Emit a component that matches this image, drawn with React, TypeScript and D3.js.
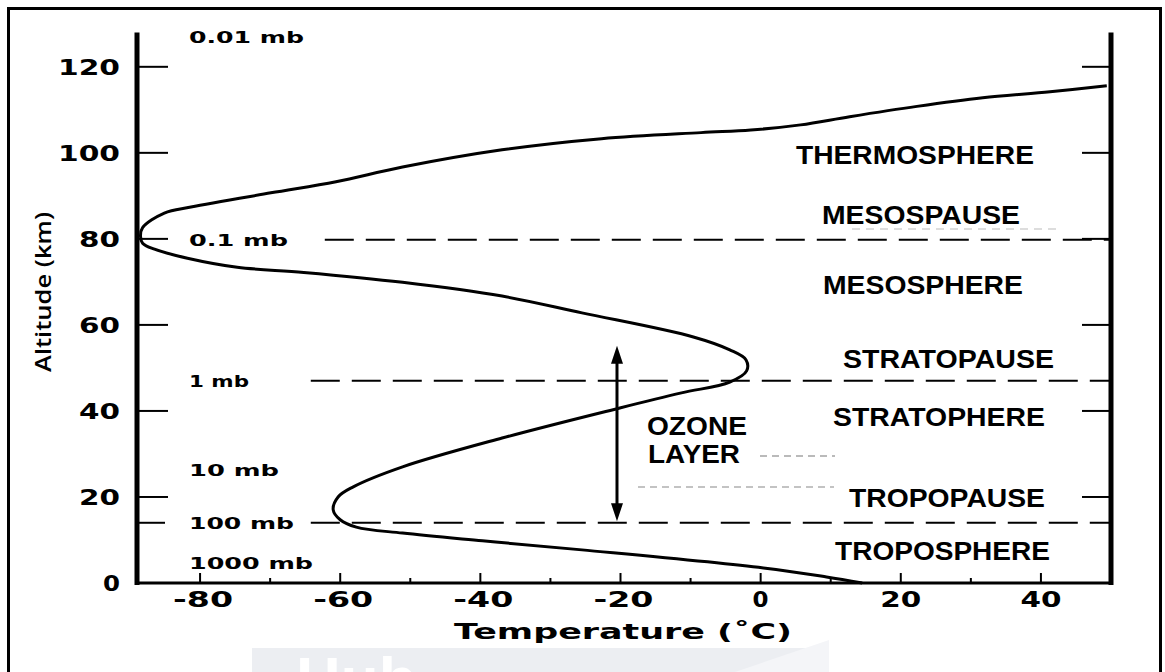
import React from 'react';
import * as d3 from 'd3';

const W = 1165;
const H = 672;

// Temperature profile: temperature (°C) and altitude (km)
const profileTemp = [
  14.5, 9.4, 0.4, -25.5, -39.7, -51.1, -57.7, -60.0, -61.0, -60.3, -58.2, -51.1,
  -36.9, -20.1, -11.3, -4.4, -2.0, -2.1, -4.4, -9.6, -25.5, -36.9, -51.1, -65.2,
  -74.7, -81.8, -86.5, -88.2, -88.5, -88.2, -85.1, -81.3, -69.9, -60.6, -51.1,
  -36.9, -22.7, -8.5, -1.4, 5.7, 12.7, 22.3, 31.7, 41.3, 49.4,
];
const profileAlt = [
  0, 1.4, 3.5, 7.7, 9.8, 11.6, 13.0, 14.7, 17.0, 20.0, 22.3, 27.0,
  33.7, 40.7, 44.2, 46.7, 49.3, 51.9, 54.2, 57.2, 62.8, 66.7, 69.9, 72.2,
  73.4, 75.5, 77.6, 79.0, 80.6, 82.6, 86.0, 87.4, 90.7, 93.3, 96.7,
  100.7, 103.3, 104.7, 105.3, 106.5, 108.4, 110.8, 112.8, 114.2, 115.6,
];

const altTicks = [0, 20, 40, 60, 80, 100, 120];
const tempTicks = [-80, -60, -40, -20, 0, 20, 40];
const tempMinorTicks = [-70, -50, -30, -10, 10, 30];

// pressure levels: label and altitude (km)
const pressureLabels = ['0.01 mb', '0.1 mb', '1 mb', '10 mb', '100 mb', '1000 mb'];
const pressureAlts = [127, 79.8, 47.0, 26.3, 14.0, 4.7];
// dashed boundary lines (km) and the temperature where each dash run starts
const boundaryAlts = [79.8, 47.0, 14.0];
const boundaryStartTemps = [-62.2, -64.2, -64.2];

const layerNames = [
  'THERMOSPHERE', 'MESOSPAUSE', 'MESOSPHERE', 'STRATOPAUSE',
  'STRATOPHERE', 'TROPOPAUSE', 'TROPOSPHERE',
];
const ozoneLines = ['OZONE', 'LAYER'];
const ozoneRange = [15.3, 54.2]; // km
const ozoneTemp = -20.5;

// layout (pixels) for text annotations
const layerLayout = [
  { x: 796, y: 164, w: 238 },
  { x: 822, y: 224, w: 198 },
  { x: 823, y: 294, w: 200 },
  { x: 843, y: 368, w: 211 },
  { x: 833, y: 426, w: 212 },
  { x: 849, y: 507, w: 196 },
  { x: 835, y: 560, w: 215 },
];
const ozoneLayout = [
  { x: 647, y: 435, w: 100 },
  { x: 648, y: 463, w: 92 },
];
const pressureWidths = [115, 99, 60, 90, 105, 124];

const margin = { left: 137, right: 1111, top: 32.4, bottom: 583 };

const App = () => {
  const x = d3.scaleLinear().domain([-89, 50]).range([margin.left, margin.right]);
  const y = d3.scaleLinear().domain([0, 128]).range([margin.bottom, margin.top]);

  const line = d3
    .line<number>()
    .x((_, i) => x(profileTemp[i]))
    .y((_, i) => y(profileAlt[i]))
    .curve(d3.curveCatmullRom.alpha(0.5));

  const numFont = "'DejaVu Sans', sans-serif";
  const labFont = "'Liberation Sans', Arial, sans-serif";

  const tickLabelWidth = (s: string) => (s.length === 1 ? 17 : s.length === 2 ? 41 : 62);

  const ax = x(ozoneTemp);
  const aTop = y(ozoneRange[1]);
  const aBot = y(ozoneRange[0]);

  return (
    <svg
      width={W}
      height={H}
      style={{ position: 'absolute', left: 0, top: 0, background: '#fff' }}
    >
      <rect x={0} y={0} width={W} height={H} fill="#fff" />

      {/* watermark */}
      <rect x={252} y={648} width={577} height={30} fill="#eceef2" />
      <polygon points="735,672 829,640 829,672" fill="#f4f5f8" />
      <text x={296} y={700} fontFamily={labFont} fontWeight="bold" fontSize={62} fill="#fff">
        Hub
      </text>

      {/* outer frame */}
      <rect x={8.5} y={8.5} width={1152} height={700} fill="none" stroke="#000" strokeWidth={3} />

      {/* faint guide dashes near ozone label */}
      <line x1={760} x2={835} y1={456} y2={456} stroke="#777" strokeWidth={1.2} strokeDasharray="7 5" />
      <line x1={638} x2={834} y1={487} y2={487} stroke="#888" strokeWidth={1.2} strokeDasharray="7 5" />
      <line x1={852} x2={1060} y1={229} y2={229} stroke="#bbb" strokeWidth={1.2} strokeDasharray="8 6" />

      {/* dashed boundaries */}
      {boundaryAlts.map((a, i) => (
        <line
          key={'b' + i}
          x1={x(boundaryStartTemps[i])}
          x2={margin.right}
          y1={y(a)}
          y2={y(a)}
          stroke="#000"
          strokeWidth={2}
          strokeDasharray="29 12"
        />
      ))}

      {/* profile */}
      <path d={line(profileTemp) || ''} fill="none" stroke="#000" strokeWidth={3} />

      {/* axes */}
      <line x1={margin.left} x2={margin.left} y1={margin.top} y2={margin.bottom + 2} stroke="#000" strokeWidth={5} />
      <line x1={margin.right} x2={margin.right} y1={margin.top} y2={margin.bottom + 2} stroke="#000" strokeWidth={5} />
      <line x1={margin.left} x2={margin.right} y1={margin.bottom} y2={margin.bottom} stroke="#000" strokeWidth={3} />

      {altTicks.filter((t) => t > 0).map((t) => (
        <g key={'yt' + t}>
          <line x1={margin.left} x2={margin.left + 31} y1={y(t)} y2={y(t)} stroke="#000" strokeWidth={2} />
          <line x1={margin.right - 29} x2={margin.right} y1={y(t)} y2={y(t)} stroke="#000" strokeWidth={2} />
        </g>
      ))}
      <line x1={margin.left} x2={margin.left + 28} y1={y(14)} y2={y(14)} stroke="#000" strokeWidth={2} />

      {altTicks.map((t) => (
        <text
          key={'yl' + t}
          x={120}
          y={y(t) + 8}
          textAnchor="end"
          fontFamily={numFont}
          fontWeight="bold"
          fontSize={21}
          textLength={tickLabelWidth(String(t))}
          lengthAdjust="spacingAndGlyphs"
        >
          {t}
        </text>
      ))}

      {tempTicks.map((t) => (
        <line key={'xt' + t} x1={x(t)} x2={x(t)} y1={margin.bottom} y2={margin.bottom - 10} stroke="#000" strokeWidth={2} />
      ))}
      {tempMinorTicks.map((t) => (
        <line key={'xm' + t} x1={x(t)} x2={x(t)} y1={margin.bottom} y2={margin.bottom - 5} stroke="#000" strokeWidth={2} />
      ))}
      {tempTicks.map((t) => {
        const s = t < 0 ? '-' + Math.abs(t) : String(t);
        const w = t === 0 ? 16 : t < 0 ? 60 : 41;
        return (
          <text
            key={'xl' + t}
            x={x(t) + (t < 0 ? 3 : 0)}
            y={607}
            textAnchor="middle"
            fontFamily={numFont}
            fontWeight="bold"
            fontSize={21}
            textLength={w}
            lengthAdjust="spacingAndGlyphs"
          >
            {s}
          </text>
        );
      })}

      {/* axis titles */}
      <text
        x={454}
        y={639}
        fontFamily={numFont}
        fontWeight="bold"
        fontSize={22}
        textLength={338}
        lengthAdjust="spacingAndGlyphs"
      >
        Temperature (˚C)
      </text>
      <text
        transform="translate(51,292) rotate(-90)"
        textAnchor="middle"
        fontFamily="'Open Sans', sans-serif"
        fontWeight={600}
        fontSize={22}
        textLength={160}
        lengthAdjust="spacingAndGlyphs"
      >
        Altitude (km)
      </text>

      {/* pressure labels */}
      {pressureLabels.map((p, i) => (
        <text
          key={p}
          x={189}
          y={y(pressureAlts[i]) + 6}
          fontFamily={numFont}
          fontWeight="bold"
          fontSize={16}
          textLength={pressureWidths[i]}
          lengthAdjust="spacingAndGlyphs"
        >
          {p}
        </text>
      ))}

      {/* ozone arrow */}
      <line x1={ax} x2={ax} y1={aTop + 8} y2={aBot - 8} stroke="#000" strokeWidth={3} />
      <polygon points={`${ax},${aTop - 4} ${ax - 6},${aTop + 14} ${ax + 6},${aTop + 14}`} fill="#000" />
      <polygon points={`${ax},${aBot + 4} ${ax - 6},${aBot - 14} ${ax + 6},${aBot - 14}`} fill="#000" />

      {/* layer labels */}
      {layerNames.map((n, i) => (
        <text
          key={n}
          x={layerLayout[i].x}
          y={layerLayout[i].y}
          fontFamily={labFont}
          fontWeight="bold"
          fontSize={25}
          textLength={layerLayout[i].w}
          lengthAdjust="spacingAndGlyphs"
        >
          {n}
        </text>
      ))}
      {ozoneLines.map((n, i) => (
        <text
          key={n}
          x={ozoneLayout[i].x}
          y={ozoneLayout[i].y}
          fontFamily={labFont}
          fontWeight="bold"
          fontSize={25}
          textLength={ozoneLayout[i].w}
          lengthAdjust="spacingAndGlyphs"
        >
          {n}
        </text>
      ))}
    </svg>
  );
};

export default App;
